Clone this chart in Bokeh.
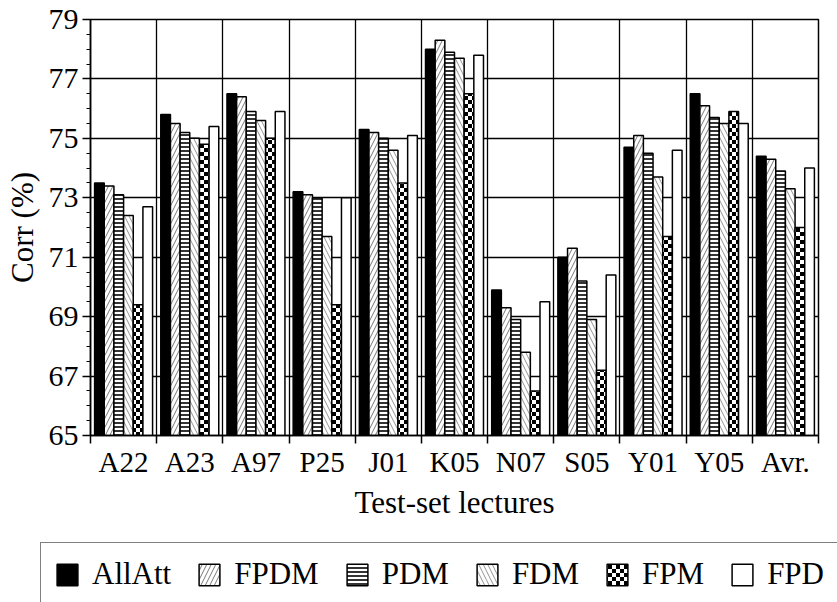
from urllib.parse import quote
from bokeh.plotting import figure
from bokeh.models import (FixedTicker, Legend, LegendItem, ColumnDataSource,
                          ImageURLTexture, Range1d)
from bokeh.transform import dodge
from bokeh.core.properties import value
from bokeh.embed import file_html
from bokeh.resources import INLINE

# ---------------- data ----------------
lectures = ["A22", "A23", "A97", "P25", "J01", "K05", "N07", "S05", "Y01", "Y05", "Avr."]
allatt = [73.5, 75.8, 76.5, 73.2, 75.3, 78.0, 69.9, 71.0, 74.7, 76.5, 74.4]
fpdm   = [73.4, 75.5, 76.4, 73.1, 75.2, 78.3, 69.3, 71.3, 75.1, 76.1, 74.3]
pdm    = [73.1, 75.2, 75.9, 73.0, 75.0, 77.9, 68.9, 70.2, 74.5, 75.7, 73.9]
fdm    = [72.4, 75.0, 75.6, 71.7, 74.6, 77.7, 67.8, 68.9, 73.7, 75.5, 73.3]
fpm    = [69.4, 74.8, 75.0, 69.4, 73.5, 76.5, 66.5, 67.2, 71.7, 75.9, 72.0]
fpd    = [72.7, 75.4, 75.9, 73.0, 75.1, 77.8, 69.5, 70.4, 74.6, 75.5, 74.0]
series_names = ["AllAtt", "FPDM", "PDM", "FDM", "FPM", "FPD"]
y_ticks = [65, 67, 69, 71, 73, 75, 77, 79]
y_min, y_max = 65, 79

series_values = [allatt, fpdm, pdm, fdm, fpm, fpd]

# ---------------- styles ----------------
FONT = "Liberation Serif"
checker_svg = ("<svg xmlns='http://www.w3.org/2000/svg' width='8' height='8'>"
               "<rect x='0' y='0' width='8' height='8' fill='white'/>"
               "<rect x='0' y='0' width='4' height='4' fill='black'/>"
               "<rect x='4' y='4' width='4' height='4' fill='black'/></svg>")
checker = ImageURLTexture(url="data:image/svg+xml;charset=utf-8," + quote(checker_svg),
                          repetition="repeat")

styles = {
    "AllAtt": dict(fill_color="black"),
    "FPDM": dict(fill_color="white", hatch_pattern=value("right_diagonal_line"),
                 hatch_color="#555555", hatch_scale=9, hatch_weight=0.8),
    "PDM": dict(fill_color="white", hatch_pattern=value("horizontal_line"),
                hatch_color="black", hatch_scale=4, hatch_weight=1.6),
    "FDM": dict(fill_color="white", hatch_pattern=value("left_diagonal_line"),
                hatch_color="#777777", hatch_scale=9, hatch_weight=0.8),
    "FPM": dict(fill_color="white", hatch_pattern=value("checker"),
                hatch_extra={"checker": checker}, hatch_color="black", hatch_scale=8),
    "FPD": dict(fill_color="white"),
}

# ---------------- main chart ----------------
n = len(lectures)
centers = list(range(n))
boundaries = [i - 0.5 for i in range(n + 1)]

p = figure(width=837, height=540, output_backend="svg", toolbar_location=None,
           x_range=Range1d(-0.5, n - 0.5), y_range=Range1d(y_min, y_max),
           min_border_left=90, min_border_right=19, min_border_top=19,
           min_border_bottom=105)
p.background_fill_color = "white"
p.border_fill_color = "white"
p.outline_line_color = "black"
p.outline_line_width = 1.5

src = ColumnDataSource(dict(x=centers, **{nm: v for nm, v in zip(series_names, series_values)}))

bar_w = 0.146
for k, nm in enumerate(series_names):
    off = (k - 2.5) * bar_w
    p.vbar(x=dodge("x", off, range=p.x_range), top=nm, bottom=y_min, width=bar_w,
           source=src, line_color="black", line_width=1.5, **styles[nm])

xa = p.xaxis[0]
xa.ticker = FixedTicker(ticks=centers, minor_ticks=boundaries)
xa.major_label_overrides = {c: lab for c, lab in zip(centers, lectures)}
xa.major_tick_out = 0
xa.major_tick_in = 0
xa.minor_tick_out = 8
xa.minor_tick_in = 0
xa.minor_tick_line_color = "black"
xa.minor_tick_line_width = 1.5
xa.major_label_standoff = 2
xa.major_label_text_font = FONT
xa.major_label_text_font_size = "29px"
xa.major_label_text_color = "black"
xa.axis_label = "Test-set lectures"
xa.axis_label_text_font = FONT
xa.axis_label_text_font_size = "31px"
xa.axis_label_text_font_style = "normal"
xa.axis_label_text_color = "black"
xa.axis_label_standoff = 4
xa.axis_line_width = 1.5
xa.axis_line_color = "black"

ya = p.yaxis[0]
minor_y = [y_min + 0.5 * i for i in range(int((y_max - y_min) * 2) + 1)]
ya.ticker = FixedTicker(ticks=y_ticks, minor_ticks=minor_y)
ya.major_tick_out = 8
ya.major_tick_in = 0
ya.minor_tick_out = 4
ya.minor_tick_in = 0
ya.major_tick_line_width = 1.5
ya.minor_tick_line_width = 1.2
ya.major_tick_line_color = "black"
ya.minor_tick_line_color = "black"
ya.major_label_standoff = 4
ya.major_label_text_font = FONT
ya.major_label_text_font_size = "30px"
ya.major_label_text_color = "black"
ya.axis_label = "Corr (%)"
ya.axis_label_text_font = FONT
ya.axis_label_text_font_size = "31px"
ya.axis_label_text_font_style = "normal"
ya.axis_label_text_color = "black"
ya.axis_label_standoff = 6
ya.axis_line_width = 1.5
ya.axis_line_color = "black"

p.xgrid.ticker = FixedTicker(ticks=boundaries[1:-1])
p.xgrid.grid_line_color = "black"
p.xgrid.grid_line_width = 1.3
p.ygrid.grid_line_color = "black"
p.ygrid.grid_line_width = 1.3

# ---------------- legend strip (separate root, so no frame alignment) ----------------
lg = figure(width=837, height=62, output_backend="svg", toolbar_location=None,
            x_range=Range1d(-0.5, n - 0.5), y_range=Range1d(1000, 1001),
            x_axis_location=None, y_axis_location=None,
            min_border_left=38, min_border_right=0, min_border_top=0, min_border_bottom=0)
lg.outline_line_color = None
lg.grid.visible = False
lg.background_fill_color = "white"
lg.border_fill_color = "white"

items = []
for nm in series_names:
    # same data; this strip's y-range lies above every value, so only the legend shows
    r = lg.vbar(x="x", top=nm, bottom=y_min, width=bar_w, source=src,
                line_color="black", line_width=1.5, **styles[nm])
    items.append(LegendItem(label=nm, renderers=[r]))

legend = Legend(items=items, orientation="horizontal", location="top_left",
                margin=2, padding=13, spacing=25, label_standoff=12,
                glyph_width=26, glyph_height=27,
                label_text_font=FONT, label_text_font_size="31px",
                label_text_color="black",
                border_line_color="black", border_line_width=1.6,
                background_fill_color="white", background_fill_alpha=1.0)
lg.add_layout(legend)

open("out.html", "w").write(file_html([p, lg], INLINE))
